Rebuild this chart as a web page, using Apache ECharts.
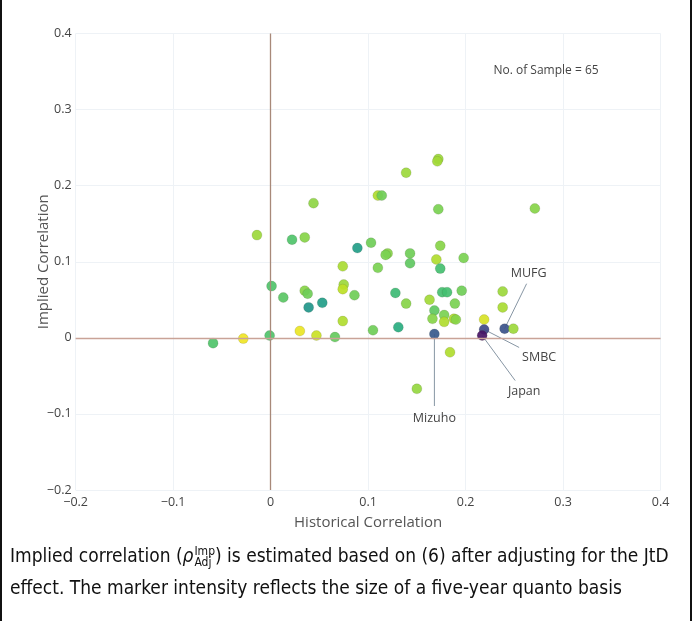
<!DOCTYPE html>
<html>
<head>
<meta charset="utf-8">
<script src="https://cdn.jsdelivr.net/npm/echarts@6/dist/echarts.min.js"></script>
<style>
html,body{margin:0;padding:0;background:#fff;}
#wrap{position:relative;width:692px;height:621px;box-sizing:border-box;border-left:2px solid #111;border-right:2px solid #111;overflow:hidden;}
#chart{position:absolute;left:-2px;top:0;width:692px;height:621px;}
#cap{position:absolute;left:8px;top:539px;width:680px;font-family:"Liberation Sans Narrow","DejaVu Sans Condensed","Noto Sans",sans-serif;font-stretch:condensed;font-size:19px;line-height:32px;color:#111;}
.ss{display:inline-block;vertical-align:middle;line-height:11px;font-size:12px;text-align:left;margin-left:1px;}
.ss span{display:block;}
</style>
</head>
<body>
<div id="wrap">
<div id="chart"></div>
<div id="cap">Implied correlation (<i>ρ</i><span class="ss"><span>Imp</span><span>Adj</span></span>) is estimated based on (6) after adjusting for the JtD<br>effect. The marker intensity reflects the size of a five-year quanto basis</div>
</div>
<script>
// Historical correlation (x), implied correlation (y), marker intensity (0 = dark purple, 1 = yellow)
var histCorr = [0.172,0.171,0.139,0.110,0.114,0.044,0.172,-0.014,0.022,0.035,0.103,0.089,0.120,0.118,0.143,0.143,0.174,0.170,0.198,0.174,0.074,0.110,0.001,0.013,0.035,0.038,0.075,0.074,0.086,0.039,0.053,0.128,0.139,0.163,0.176,0.181,0.196,0.189,0.168,0.166,0.178,0.178,0.188,0.190,0.074,0.030,0.047,0.066,0.105,0.131,0.168,0.184,0.150,-0.059,-0.028,-0.001,0.219,0.219,0.217,0.238,0.238,0.240,0.249,0.271];
var implCorr = [0.235,0.232,0.217,0.187,0.187,0.177,0.169,0.135,0.129,0.132,0.125,0.118,0.111,0.109,0.111,0.098,0.121,0.103,0.105,0.091,0.094,0.092,0.068,0.053,0.062,0.058,0.070,0.064,0.056,0.040,0.046,0.059,0.045,0.050,0.060,0.060,0.062,0.045,0.036,0.025,0.030,0.021,0.025,0.024,0.022,0.009,0.003,0.001,0.010,0.014,0.005,-0.019,-0.067,-0.007,-0.001,0.003,0.024,0.011,0.003,0.061,0.040,0.012,0.012,0.170];
var intensity = [0.85,0.86,0.85,0.88,0.78,0.83,0.80,0.85,0.72,0.82,0.78,0.55,0.82,0.80,0.78,0.75,0.82,0.88,0.80,0.70,0.87,0.80,0.72,0.74,0.82,0.78,0.85,0.90,0.78,0.52,0.55,0.68,0.82,0.86,0.70,0.70,0.78,0.80,0.75,0.82,0.80,0.88,0.88,0.82,0.88,0.97,0.92,0.76,0.78,0.62,0.28,0.88,0.84,0.72,0.98,0.72,0.94,0.22,0.05,0.85,0.87,0.25,0.85,0.82];
var xTicks = [-0.2,-0.1,0,0.1,0.2,0.3,0.4];
var yTicks = [-0.2,-0.1,0,0.1,0.2,0.3,0.4];
var labels = [
  {name:'Mizuho', x:0.168, y:0.005, dx:0,  dy:84, ex:0,  ey:72},
  {name:'Japan',  x:0.217, y:0.003, dx:42, dy:56, ex:33, ey:45},
  {name:'SMBC',   x:0.219, y:0.011, dx:55, dy:28, ex:35, ey:18},
  {name:'MUFG',   x:0.240, y:0.012, dx:24, dy:-55, ex:22, ey:-45}
];
var sampleNote = {text:'No. of Sample = 65', x:0.2825, y:0.351};

var viridis = ['#440154','#482475','#414487','#355f8d','#2a788e','#21918c','#22a884','#44bf70','#7ad151','#bddf26','#fde725'];
var pts = histCorr.map(function(v,i){return [v, implCorr[i], intensity[i]];});
function fmt(v){var s = (Math.round(v*10)/10).toString(); return s.replace('-', '\u2212');}
var font = '"Open Sans", "Noto Sans", sans-serif';

var chart = echarts.init(document.getElementById('chart'), null, {renderer:'canvas'});
var option = {
  animation:false,
  backgroundColor:'#fff',
  grid:{left:75.6, right:31.4, top:33.5, bottom:131, containLabel:false},
  xAxis:{type:'value', min:xTicks[0], max:xTicks[xTicks.length-1], interval:0.1,
    name:'Historical Correlation', nameLocation:'middle', nameGap:25, nameMoveOverlap:false,
    nameTextStyle:{fontFamily:font, fontSize:15, color:'#555', verticalAlign:'top'},
    axisLine:{show:false}, axisTick:{show:false},
    axisLabel:{formatter:fmt, fontFamily:font, fontSize:12.5, color:'#444', margin:6},
    splitLine:{lineStyle:{color:'#eef2f6', width:1}}},
  yAxis:{type:'value', min:yTicks[0], max:yTicks[yTicks.length-1], interval:0.1,
    name:'Implied Correlation', nameLocation:'middle', nameGap:24, nameRotate:90, nameMoveOverlap:false,
    nameTextStyle:{fontFamily:font, fontSize:15, color:'#555', verticalAlign:'bottom'},
    axisLine:{show:false}, axisTick:{show:false},
    axisLabel:{formatter:fmt, fontFamily:font, fontSize:12.5, color:'#444', margin:4},
    splitLine:{lineStyle:{color:'#eef2f6', width:1}}},
  visualMap:{type:'continuous', show:false, dimension:2, min:0, max:1, seriesIndex:0, inRange:{color:viridis}},
  series:[
    {type:'scatter', z:3, data:pts, symbolSize:10,
      itemStyle:{opacity:0.92, borderColor:'rgba(60,60,40,0.25)', borderWidth:0.6}},
    {type:'scatter', z:1, data:[], markLine:{silent:true, symbol:['none','none'], label:{show:false},
      data:[{xAxis:0, lineStyle:{color:'#a88979', width:1.3, type:'solid'}},
            {yAxis:0, lineStyle:{color:'#c9a397', width:1.3, type:'solid'}}]}}
  ]
};
chart.setOption(option);

var g = [];
labels.forEach(function(l){
  var p = chart.convertToPixel({gridIndex:0}, [l.x, l.y]);
  g.push({type:'line', z:2, shape:{x1:p[0], y1:p[1], x2:p[0]+l.ex, y2:p[1]+l.ey}, style:{stroke:'#8796a4', lineWidth:1}});
  g.push({type:'text', z:4, x:p[0]+l.dx, y:p[1]+l.dy, style:{text:l.name, fontFamily:font, fontSize:12.5, fill:'#444', align:'center', verticalAlign:'middle'}});
});
var sp = chart.convertToPixel({gridIndex:0}, [sampleNote.x, sampleNote.y]);
g.push({type:'text', x:sp[0], y:sp[1], style:{text:sampleNote.text, fontFamily:font, fontSize:12, fill:'#444', align:'center', verticalAlign:'middle'}});
chart.setOption({graphic:g});
</script>
</body>
</html>
